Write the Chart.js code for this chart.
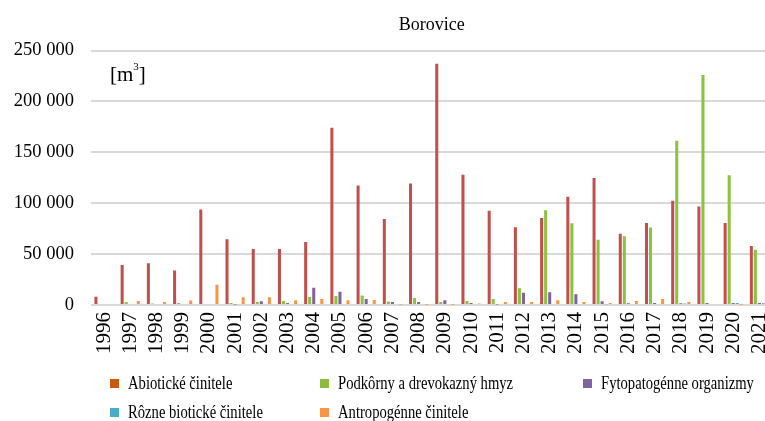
<!DOCTYPE html>
<html>
<head>
<meta charset="utf-8">
<script src="https://cdn.jsdelivr.net/npm/chart.js@4.4.0/dist/chart.umd.min.js"></script>
<style>
  html, body { margin:0; padding:0; background:#fff; overflow:hidden; width:765px; height:421px; }
  #wrap { position:relative; width:792px; height:421px; }
  #unit { position:absolute; left:110px; top:62px; font-family:"Liberation Serif", serif; font-size:21px; color:#000; }
  #unit sup { font-size:11px; position:relative; top:-2px; vertical-align:top; }
  #legend { position:absolute; left:0; top:0; font-family:"Liberation Serif", serif; font-size:19px; color:#000; }
  .li { position:absolute; white-space:nowrap; height:24px; line-height:24px; }
  .sw { position:absolute; width:9px; height:9px; top:8px; left:0; }
  .tx { position:absolute; left:18px; top:0; transform:scaleX(0.77); transform-origin:left center; }
</style>
</head>
<body>
<div id="wrap">
  <canvas id="c" width="792" height="421" style="width:792px;height:421px;"></canvas>
  <div id="unit">[m<sup>3</sup>]</div>
  <div id="legend"></div>
</div>
<script>
// ---- data ----
const years = ["1996","1997","1998","1999","2000","2001","2002","2003","2004","2005","2006","2007","2008","2009","2010","2011","2012","2013","2014","2015","2016","2017","2018","2019","2020","2021"];
const seriesNames = ["Abiotické činitele","Podkôrny a drevokazný hmyz","Fytopatogénne organizmy","Rôzne biotické činitele","Antropogénne činitele"];
const abiotic   = [8200, 39400, 41000, 33800, 93800, 64700, 55100, 55100, 62000, 174200, 117400, 84600, 119400, 237200, 128000, 92500, 76400, 85600, 106300, 124700, 69900, 80700, 102400, 96800, 80700, 58100];
const barkInsects = [0, 3000, 1500, 2000, 1000, 2000, 3000, 4000, 7900, 8900, 9400, 3400, 6900, 3000, 3900, 5800, 16400, 93200, 80400, 64000, 67600, 76100, 161400, 226100, 127600, 54400];
const pathogens = [0, 0, 0, 0, 0, 500, 3600, 2000, 17000, 13100, 5900, 3000, 3000, 4600, 2000, 500, 12000, 12500, 10500, 3600, 1800, 2000, 1800, 2000, 2000, 2000];
const otherBiotic = [0, 0, 0, 0, 0, 0, 0, 0, 0, 0, 0, 0, 0, 0, 0, 0, 0, 0, 0, 800, 0, 0, 1500, 0, 2000, 1800];
const anthropogenic = [0, 4000, 3000, 4500, 20000, 7500, 7500, 4600, 5900, 4600, 4900, 500, 300, 300, 1500, 3000, 3000, 4600, 3000, 2000, 4000, 5900, 3000, 1000, 300, 0];
const yTicks = [0, 50000, 100000, 150000, 200000, 250000];

// ---- styles ----
const barColors = ["#C0504D", "#8DC13F", "#7F63A1", "#4BACC6", "#F79646"];
const legendColors = ["#C55A11", "#8DBB3F", "#8064A2", "#4BACC6", "#F79646"];
const legendPos = [[110,371],[320,371],[583,371],[110,400],[320,400]];

const values = [abiotic, barkInsects, pathogens, otherBiotic, anthropogenic];
const fmt = v => String(v).replace(/\B(?=(\d{3})+(?!\d))/g, " ");
const FONT = "'Liberation Serif', 'Times New Roman', serif";

const chart = new Chart(document.getElementById("c"), {
  type: "bar",
  data: {
    labels: years,
    datasets: seriesNames.map((n, i) => ({
      label: n,
      data: values[i],
      backgroundColor: barColors[i],
      borderWidth: 0,
      categoryPercentage: 0.77,
      barPercentage: 0.75
    }))
  },
  options: {
    responsive: false,
    animation: false,
    devicePixelRatio: 1,
    layout: { padding: { left: 0, right: 6.6, top: 0, bottom: 0 } },
    plugins: {
      legend: { display: false },
      tooltip: { enabled: false },
      title: {
        display: true, text: "Borovice", fullSize: false, color: "#000",
        font: { family: FONT, size: 18, weight: "normal", lineHeight: 1.2 },
        padding: { top: 14, bottom: 15 }
      }
    },
    scales: {
      x: {
        grid: { display: false, drawTicks: false },
        border: { display: false },
        ticks: { color: "#000", maxRotation: 90, minRotation: 90, padding: 7, autoSkip: false,
                 font: { family: FONT, size: 21 } },
        afterFit: s => { s.height = 116; }
      },
      y: {
        min: 0, max: 250000,
        afterBuildTicks: s => { s.ticks = yTicks.map(v => ({ value: v })); },
        grid: { color: "#D9D9D9", lineWidth: 2, drawTicks: false },
        border: { display: false },
        ticks: { color: "#000", padding: 17, callback: v => fmt(v), font: { family: FONT, size: 18.5 } },
        afterFit: s => { s.width = 90.9; }
      }
    }
  }
});

// HTML legend built from chart datasets
const lg = document.getElementById("legend");
chart.data.datasets.forEach((ds, i) => {
  const d = document.createElement("div");
  d.className = "li";
  d.style.left = legendPos[i][0] + "px";
  d.style.top = legendPos[i][1] + "px";
  const sw = document.createElement("span"); sw.className = "sw"; sw.style.background = legendColors[i];
  const tx = document.createElement("span"); tx.className = "tx"; tx.textContent = ds.label;
  d.appendChild(sw); d.appendChild(tx); lg.appendChild(d);
});
</script>
</body>
</html>
